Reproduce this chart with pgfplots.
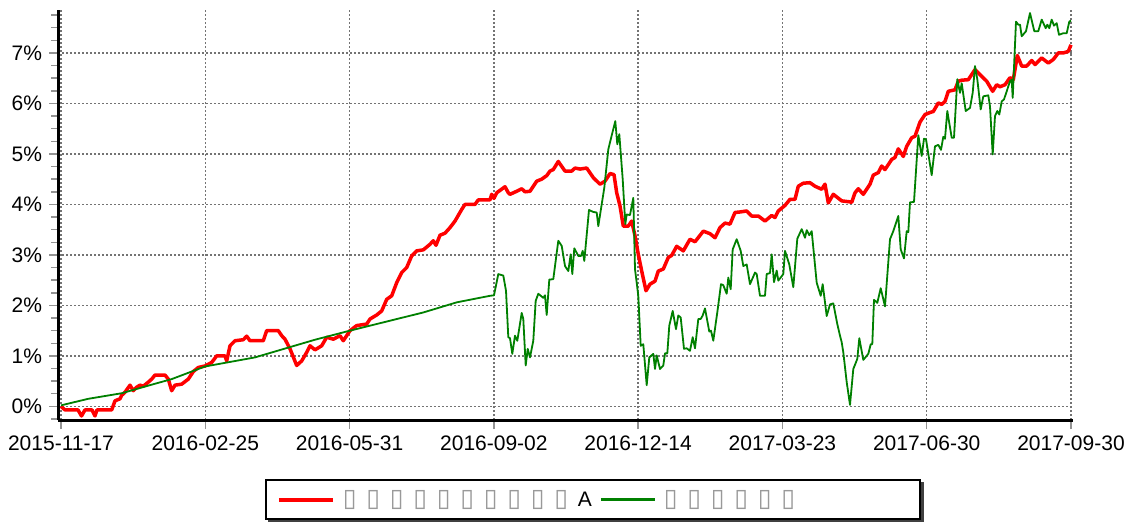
\documentclass[border=0pt]{standalone}
\usepackage{fontspec}
\setmainfont{Liberation Sans}
\newfontfamily\symfont{DejaVu Sans}
\usepackage{pgfplots}
\pgfplotsset{compat=1.18}
\usetikzlibrary{backgrounds}
\newcommand{\tofu}{\makebox[11.75pt][l]{\textcolor{black!40}{\symfont\fontsize{12.5}{12}\selectfont ▯}}}
\begin{document}
\begin{tikzpicture}
\useasboundingbox (0,0) rectangle (566pt,260.5pt);
\begin{axis}[
  at={(29pt,50.5pt)}, anchor=south west,
  scale only axis, width=507.5pt, height=205pt,
  xmin=-3, xmax=1012, ymin=-0.27, ymax=7.85,
  axis x line=bottom, axis y line=left,
  axis line style={-, line width=1.5pt, black},
  xtick={0,144.286,288.571,432.857,577.143,721.429,865.714,1010},
  xticklabels={2015-11-17,2016-02-25,2016-05-31,2016-09-02,2016-12-14,2017-03-23,2017-06-30,2017-09-30},
  minor x tick num=3,
  ytick={0,1,2,3,4,5,6,7},
  yticklabels={0\%,1\%,2\%,3\%,4\%,5\%,6\%,7\%},
  minor ytick={-0.25,0,0.25,...,7.75},
  tick align=outside,
  major tick length=4.5pt, minor tick length=3.5pt,
  tick style={gray!85, line width=0.75pt},
  xmajorgrids, ymajorgrids,
  major grid style={black!55, line width=0.7pt, dash pattern=on 0.8pt off 1.2pt},
  tick label style={font=\fontsize{10.5}{12}\selectfont, black},
  /pgf/number format/assume math mode=true,
  legend columns=2,
  legend cell align=left,
  legend style={name=leg, at={(0.527,-0.194)}, anchor=center, draw=black, line width=1pt, fill=white,
    font=\fontsize{10.5}{12}\selectfont, inner xsep=5.5pt, inner ysep=3pt,
    /tikz/every even column/.append style={column sep=2pt}},
  legend image code/.code={\draw[#1] (0pt,0pt) -- (27pt,0pt);},
]
\addplot[red, line width=1.75pt, line join=round, legend image post style={red, line width=2pt}] coordinates {
(0,0.0)(4,-0.07)(17,-0.07)(20.5,-0.19)(24,-0.07)(31,-0.07)(34,-0.19)(36,-0.07)(50.7,-0.07)
(54,0.11)(59,0.15)(60.7,0.22)(64,0.28)(69,0.42)(72.3,0.31)(75.7,0.38)(79,0.42)(82.3,0.40)
(87.3,0.48)(90.7,0.54)(94,0.62)(104,0.62)(107.3,0.54)(110.7,0.31)(114,0.42)(120.7,0.44)
(127.3,0.54)(132.3,0.69)(137.3,0.77)(144,0.80)(150.7,0.87)(155.7,1.00)(164,1.00)(165.7,0.90)
(169,1.20)(174,1.30)(182.3,1.32)(185.7,1.39)(189,1.30)(202.3,1.30)(205.7,1.50)(217.3,1.50)
(220.7,1.40)(224,1.33)(229,1.14)(235.7,0.81)(240.7,0.90)(245.7,1.07)(249,1.20)(254,1.12)
(260.7,1.20)(265.7,1.37)(272.3,1.33)(279,1.40)(282.3,1.30)(289,1.50)(295.7,1.60)(305.7,1.63)
(309,1.73)(315.7,1.81)(320.7,1.89)(325.7,2.12)(330.7,2.19)(335.7,2.45)(340.7,2.65)(345.7,2.75)
(350.7,2.98)(355.7,3.08)(362.3,3.10)(369,3.21)(372.3,3.28)(375,3.19)(379,3.39)(384,3.43)
(389,3.54)(394,3.67)(400.7,3.90)(404,4.00)(414,4.00)(417.3,4.09)(429,4.09)(430.7,4.20)
(433,4.12)(435.7,4.23)(444,4.35)(447.3,4.23)(449,4.20)(455.7,4.26)(460.7,4.31)(464,4.25)
(469,4.26)(475.7,4.46)(480.7,4.50)(485.7,4.57)(489,4.66)(492.3,4.69)(497.3,4.85)(504,4.66)
(510.7,4.66)(514,4.72)(519,4.70)(525.7,4.72)(532.3,4.53)(539,4.40)(544,4.46)(549,4.61)
(553,4.59)(555.7,4.23)(559,3.97)(562.3,3.57)(567.3,3.57)(570.7,3.67)(574,3.38)(577.3,3.01)
(580.7,2.68)(585,2.29)(589,2.42)(594,2.48)(597.3,2.68)(602.3,2.72)(607.3,2.95)(610.7,2.99)
(615.7,3.17)(622.3,3.08)(629,3.31)(634,3.26)(642.3,3.47)(649,3.42)(654,3.34)(659,3.54)
(664,3.63)(669,3.61)(674,3.84)(679,3.85)(685.7,3.87)(690.7,3.77)(697.3,3.77)(704,3.67)
(710.7,3.78)(714,3.74)(717.3,3.87)(724,3.98)(729,4.10)(734,4.10)(737.3,4.36)(742.3,4.42)
(749,4.43)(754,4.36)(760.7,4.30)(764,4.40)(767.3,4.03)(772.3,4.20)(780.7,4.07)(789,4.05)
(790.7,4.04)(794,4.23)(797.3,4.31)(802.3,4.20)(809,4.40)(812.3,4.58)(817.3,4.63)(820.7,4.76)
(824,4.69)(830.7,4.89)(834,4.93)(837.3,5.10)(842.3,4.95)(845.7,5.15)(850.7,5.32)(854,5.35)
(859,5.63)(864,5.78)(869,5.82)(872.3,5.84)(877.3,6.01)(880.7,5.98)(884,6.04)(887.3,6.24)
(894,6.27)(897.3,6.44)(900.7,6.46)(907.3,6.47)(914,6.67)(919,6.57)(925.7,6.44)(931.7,6.24)
(935.7,6.37)(939,6.33)(944,6.37)(949,6.51)(952.3,6.47)(956.3,6.95)(960.7,6.74)(965.7,6.74)
(970.7,6.85)(974,6.77)(980.7,6.90)(987.3,6.80)(992.3,6.87)(997.3,7.00)(1002.3,7.00)(1007.3,7.03)
(1010,7.16)
};
\addlegendentry{\hspace*{2pt}\tofu\tofu\tofu\tofu\tofu\tofu\tofu\tofu\tofu\tofu A}
\addplot[green!50!black, line width=0.9pt, line join=round, legend image post style={green!50!black, line width=1.1pt}] coordinates {
(0,0.02)(27.3,0.15)(60.7,0.26)(90.7,0.43)(110.7,0.54)(144,0.79)(194,0.97)(254,1.32)(289,1.50)
(362.3,1.86)(395.7,2.06)(429,2.19)(433,2.20)(437.3,2.62)(442.3,2.59)(445,2.29)(447.3,1.37)
(449,1.35)(451.3,1.04)(454,1.40)(456.3,1.30)(460.7,1.85)(462.3,1.73)(464.7,0.81)(466.7,1.14)
(469,0.97)(472.3,1.30)(474.7,2.09)(477.3,2.23)(482.3,2.15)(484,2.20)(485.7,1.81)(488.3,2.51)
(492.3,2.52)(497.3,3.28)(500.7,3.18)(504,2.78)(507.3,2.68)(509.7,3.01)(511.3,2.62)(513.3,3.13)
(517.3,2.98)(520,2.98)(521.7,3.08)(523.3,2.88)(528,3.89)(532.3,3.85)(535.7,3.84)(537.3,3.57)
(543.3,4.33)(547.3,5.09)(551,5.39)(554.3,5.65)(556.3,5.19)(558.3,5.39)(561.7,4.50)(564.3,3.61)
(565.7,3.80)(569,3.79)(572.3,4.13)(574,2.72)(577.3,2.19)(579.7,1.20)(582.3,1.23)(585.7,0.42)
(588.3,0.97)(592.3,1.04)(594,0.74)(595.7,1.01)(599,0.74)(602.3,0.81)(604,1.05)(606.3,1.05)
(608.3,1.60)(611.7,1.89)(615,1.53)(617.3,1.80)(619.7,1.76)(623,1.14)(625.7,1.15)(629,1.10)
(631.7,1.37)(634,1.15)(637.3,1.73)(639.7,1.73)(641.7,1.80)(644,1.94)(648.3,1.48)(650,1.50)
(652.3,1.30)(656.7,1.92)(660,2.42)(662.3,2.40)(665.7,2.23)(667.3,2.55)(669.7,2.32)(671.7,3.11)
(675.7,3.31)(679.7,3.08)(682.3,2.78)(685.7,2.81)(689,2.42)(694,2.65)(695.7,2.62)(699,2.19)
(704,2.19)(705.7,2.62)(709,2.64)(710.7,3.01)(713,2.46)(715.7,2.69)(717.3,2.49)(722.3,2.62)
(724,3.08)(728.3,2.81)(732.3,2.36)(736.3,3.32)(740.7,3.51)(744,3.34)(745.7,3.49)(748.3,3.39)
(750.7,3.47)(755.7,2.45)(759.7,2.19)(761.7,2.42)(765.7,1.79)(769,2.02)(772.3,2.04)(776.3,1.63)
(779,1.40)(780.7,1.27)(782.3,1.07)(785.7,0.48)(789,0.03)(792.3,0.74)(796.3,0.94)(798.3,1.35)
(802.3,0.92)(807.3,1.04)(809.7,1.23)(811.3,1.23)(813,2.11)(816.3,2.05)(819.7,2.34)(824,1.98)
(829,3.31)(832.3,3.47)(837.3,3.77)(839.7,3.11)(843,2.93)(845.7,3.47)(847.3,3.45)(849,4.04)
(853,4.05)(857.3,5.37)(860.7,4.96)(863,5.30)(865,5.29)(870.7,4.58)(874,5.15)(877.3,5.18)
(880,5.08)(882.3,5.34)(884,5.30)(886.3,5.85)(890.7,5.32)(893,5.32)(896.3,6.48)(899,6.21)
(900.7,6.40)(904.7,5.85)(909,5.91)(911.7,6.21)(914,6.74)(916.3,6.48)(919.7,5.88)(922.3,6.14)
(927.3,6.16)(929,5.94)(931.7,4.99)(934,5.75)(936.3,5.85)(938.3,5.78)(940.7,6.04)(943,6.08)
(945.7,6.24)(949,6.44)(950.7,6.47)(951.7,6.11)(955,7.62)(957.3,7.56)(959,7.56)(960.7,7.33)
(965,7.43)(969,7.79)(973.3,7.43)(977.3,7.43)(980.7,7.66)(984.7,7.49)(986.3,7.56)(988.3,7.49)
(990.7,7.66)(993,7.54)(995.7,7.59)(998,7.36)(1002.3,7.39)(1005.7,7.39)(1008.3,7.62)(1010,7.64)
};
\addlegendentry{\hspace*{2pt}\tofu\tofu\tofu\tofu\tofu\tofu\hspace*{50pt}}
\end{axis}
\begin{scope}[on background layer]
\fill[black!75] ([xshift=1.5pt,yshift=-1.5pt]leg.south west) rectangle ([xshift=1.5pt,yshift=-1.5pt]leg.north east);
\end{scope}
\end{tikzpicture}
\end{document}
